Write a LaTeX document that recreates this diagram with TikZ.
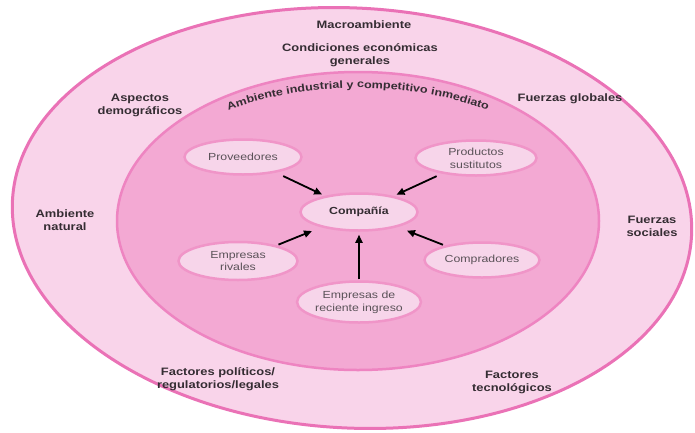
\documentclass[tikz,border=0pt]{standalone}
\usepackage{fontspec}
\setmainfont{Liberation Sans}[FakeStretch=1.2]
\usetikzlibrary{arrows.meta,decorations.text,shapes.geometric}
\definecolor{outerfill}{HTML}{F9D4EA}
\definecolor{outerline}{HTML}{EA72B6}
\definecolor{innerfill}{HTML}{F3A9D3}
\definecolor{innerline}{HTML}{EE84C1}
\definecolor{nodefill}{HTML}{F7D5EA}
\definecolor{nodeline}{HTML}{F095C8}
\definecolor{labeltext}{HTML}{352D33}
\definecolor{nodetext}{HTML}{5A5258}
\tikzset{
  lbl/.style={font=\fontsize{10.8}{13}\selectfont\bfseries, text=labeltext, align=center, inner sep=0pt},
  ent/.style={ellipse, fill=nodefill, draw=nodeline, line width=2.5bp, minimum width=117bp, minimum height=35bp, inner sep=0pt, align=center, font=\fontsize{10.3}{13}\selectfont, text=nodetext},
  arr/.style={-{Triangle[length=8bp,width=7bp]}, line width=1.8bp, black}
}
\begin{document}
\begin{tikzpicture}[x=1bp,y=1bp]
\useasboundingbox (0,0) rectangle (695,432);
% outer ellipse
\draw[fill=outerfill, draw=outerline, line width=3bp, rotate around={-3:(352,214)}] (352,214) ellipse [x radius=340, y radius=210];
% inner ellipse
\draw[fill=innerfill, draw=innerline, line width=2.5bp] (358,211) ellipse [x radius=241, y radius=149];
% curved title
\path[decorate, decoration={text along path, text align=center,
  text={|\fontsize{10.5}{12}\selectfont\bfseries\color{labeltext}|Ambiente industrial y competitivo inmediato}}]
  (358,213) ++(150:232bp and 131bp) arc[start angle=150, end angle=30, x radius=232, y radius=131];
% outer labels
\node[lbl] (macro) at (364,407) {Macroambiente};
\node[lbl] (econ) at (360,377) {Condiciones económicas\\generales};
\node[lbl] (demo) at (140,327) {Aspectos\\demográficos};
\node[lbl] (glob) at (570,333) {Fuerzas globales};
\node[lbl] (nat) at (65,212) {Ambiente\\natural};
\node[lbl] (soc) at (652,206) {Fuerzas\\sociales};
\node[lbl] (pol) at (218,53) {Factores políticos/\\regulatorios/legales};
\node[lbl] (tec) at (512,50) {Factores\\tecnológicos};
% entities
\node[ent] (prov) at (243,275) {Proveedores};
\node[ent, minimum width=121bp] (prod) at (476,274) {Productos\\sustitutos};
\node[ent, minimum height=37bp, font=\fontsize{10.3}{13}\selectfont\bfseries, text=labeltext] (comp) at (359,220) {Compañía};
\node[ent, minimum width=119bp, minimum height=38bp] (riv) at (238,171) {Empresas\\rivales};
\node[ent, minimum width=115bp] (compr) at (482,172) {Compradores};
\node[ent, minimum width=115bp, minimum height=41bp] (rec) at (359,130) {Empresas de\\reciente ingreso};
% arrows
\draw[arr, shorten <=8bp, shorten >=3bp] (prov) -- (comp);
\draw[arr, shorten <=6bp, shorten >=3bp] (prod) -- (comp);
\draw[arr, shorten <=2bp, shorten >=10bp] (riv) -- (comp);
\draw[arr, shorten <=2bp, shorten >=10bp] (compr) -- (comp);
\draw[arr, shorten <=1bp, shorten >=3bp] (rec) -- (comp);
\end{tikzpicture}
\end{document}
